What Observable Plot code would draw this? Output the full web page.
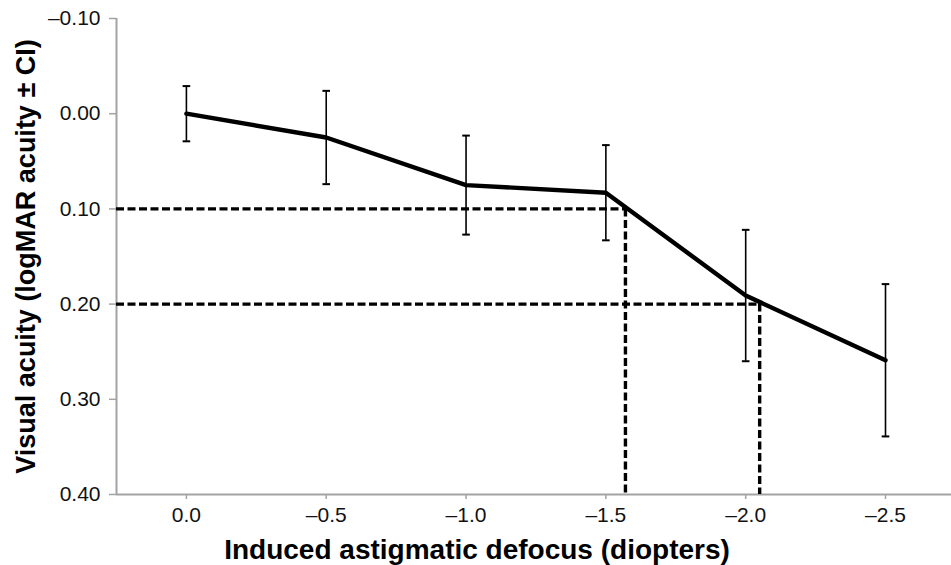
<!DOCTYPE html>
<html>
<head>
<meta charset="utf-8">
<script src="https://cdn.jsdelivr.net/npm/d3@7"></script>
<script src="https://cdn.jsdelivr.net/npm/@observablehq/plot@0.6"></script>
<style>
  html, body { margin: 0; padding: 0; background: #fff; }
  #chart svg { display: block; }
</style>
</head>
<body>
<div id="chart"></div>
<script>
// ---- data ----
const defocus = [0, -0.5, -1.0, -1.5, -2.0, -2.5];            // diopters
const acuity  = [0.000, 0.025, 0.075, 0.083, 0.191, 0.259];   // logMAR
const ci      = [0.029, 0.049, 0.052, 0.050, 0.069, 0.080];   // ± CI

const thresholdAcuity  = [0.10, 0.20];
const thresholdDefocus = [-1.57, -2.05];

const xTicks = [0, -0.5, -1.0, -1.5, -2.0, -2.5];
const xTickLabels = ["0.0", "–0.5", "–1.0", "–1.5", "–2.0", "–2.5"];
const yTicks = [-0.10, 0.00, 0.10, 0.20, 0.30, 0.40];
const yTickLabels = ["–0.10", "0.00", "0.10", "0.20", "0.30", "0.40"];

const xDomain = [0.25, -2.736];
const yDomain = [-0.10, 0.40];

const xTitle = "Induced astigmatic defocus (diopters)";
const yTitle = "Visual acuity (logMAR acuity ± CI)";

// ---- tables built from arrays ----
const points = defocus.map((d, i) => ({x: d, y: acuity[i], lo: acuity[i] - ci[i], hi: acuity[i] + ci[i]}));
const thresholds = thresholdAcuity.map((a, i) => ({x: thresholdDefocus[i], y: a}));

const capSymbol = {
  draw(context, size) {
    const w = Math.sqrt(size / Math.PI);
    context.moveTo(-w, 0);
    context.lineTo(w, 0);
  }
};

const axisGray = "#a3a3a3";
const font = "'Liberation Sans', Arial, Helvetica, sans-serif";

const chart = Plot.plot({
  width: 951,
  height: 565,
  marginLeft: 116,
  marginRight: 0,
  marginTop: 18,
  marginBottom: 71,
  style: {fontFamily: font, fontSize: "21px", background: "#fff"},
  x: {domain: xDomain, axis: null},
  y: {domain: yDomain, reverse: true, axis: null},
  marks: [
    // axis lines
    Plot.ruleX([xDomain[0]], {stroke: axisGray, strokeWidth: 2}),
    Plot.ruleY([yDomain[1]], {stroke: axisGray, strokeWidth: 2}),
    Plot.axisY({
      ticks: yTicks,
      tickFormat: d => yTickLabels[yTicks.indexOf(d)],
      tickSize: 7, tickPadding: 9,
      stroke: axisGray, strokeWidth: 1.5,
      fill: "#111", fontSize: 21, label: null
    }),
    Plot.axisX({
      ticks: xTicks,
      tickFormat: d => xTickLabels[xTicks.indexOf(d)],
      tickSize: 5, tickPadding: 8,
      stroke: axisGray, strokeWidth: 1.5,
      fill: "#111", fontSize: 21, label: null
    }),
    // dashed threshold guides
    Plot.ruleY(thresholds, {y: "y", x1: () => xDomain[0], x2: "x", stroke: "#000", strokeWidth: 3.4, strokeDasharray: "8,3.5"}),
    Plot.ruleX(thresholds, {x: "x", y1: "y", y2: () => yDomain[1], stroke: "#000", strokeWidth: 3.4, strokeDasharray: "8,3.5"}),
    // error bars
    Plot.ruleX(points, {x: "x", y1: "lo", y2: "hi", stroke: "#000", strokeWidth: 1.6}),
    Plot.dot(points, {x: "x", y: "lo", symbol: capSymbol, r: 3.8, stroke: "#000", strokeWidth: 2, fill: "none"}),
    Plot.dot(points, {x: "x", y: "hi", symbol: capSymbol, r: 3.8, stroke: "#000", strokeWidth: 2, fill: "none"}),
    // main line
    Plot.line(points, {x: "x", y: "y", stroke: "#000", strokeWidth: 4.4}),
    // axis titles
    Plot.text([yTitle], {text: d => d, frameAnchor: "left", rotate: -90, dx: -82, textAnchor: "middle", lineAnchor: "bottom",
      fontSize: 27, fontWeight: "bold", fill: "#000"}),
    Plot.text([xTitle], {text: d => d, frameAnchor: "bottom", dx: -57, dy: 64, textAnchor: "middle", lineAnchor: "bottom",
      fontSize: 28, fontWeight: "bold", fill: "#000", letterSpacing: "0.4px"})
  ]
});

document.getElementById("chart").appendChild(chart);
</script>
</body>
</html>
